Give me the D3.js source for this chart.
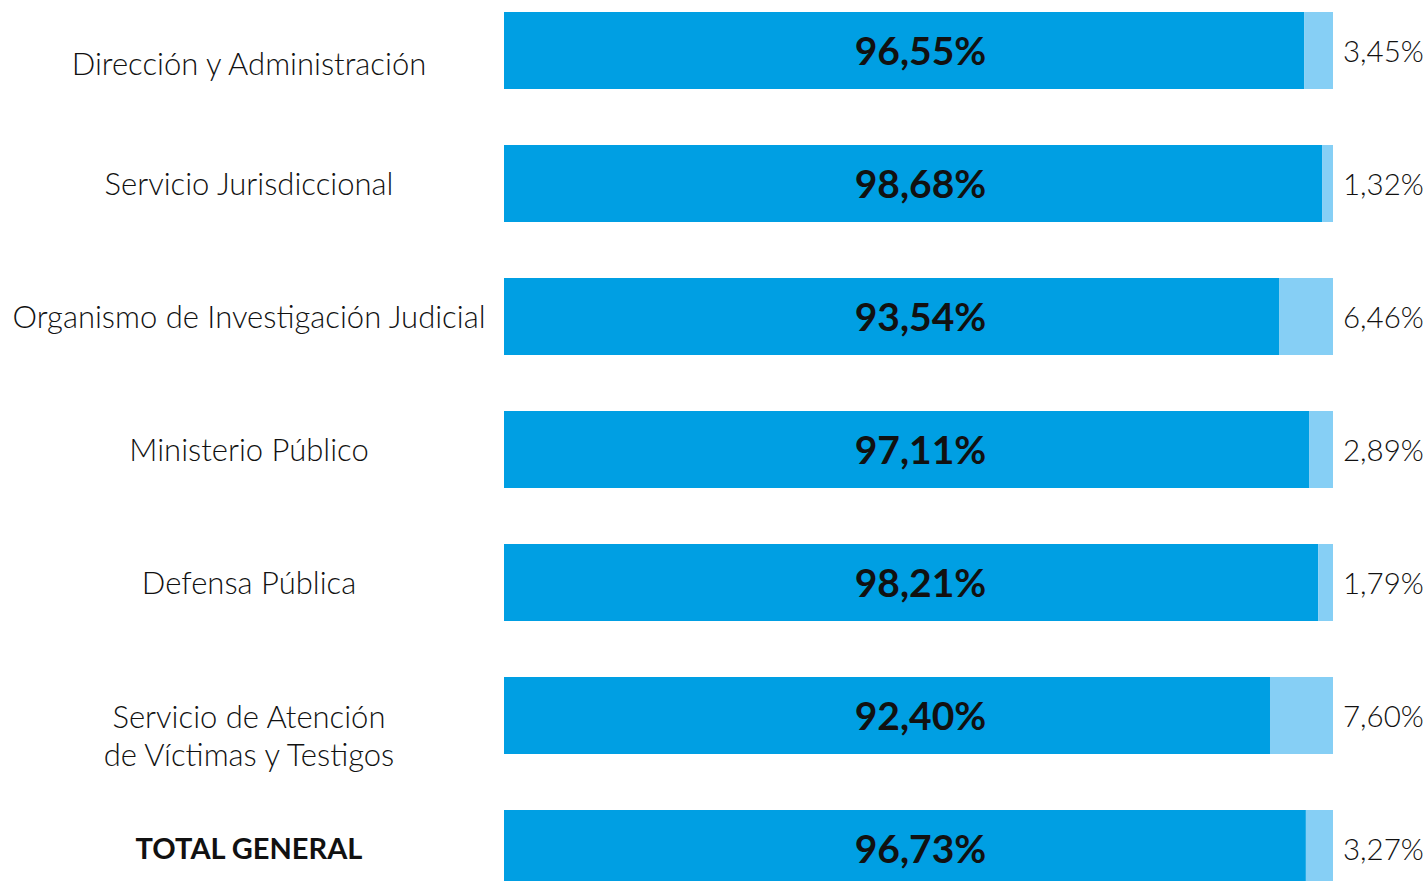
<!DOCTYPE html>
<html><head><meta charset="utf-8">
<script src="https://cdn.jsdelivr.net/npm/d3@7"></script>
<style>
html,body{margin:0;padding:0;background:#fff;overflow:hidden;}
svg text{font-family:Lato,"Noto Sans",sans-serif;}
</style></head><body>
<svg id="c" width="1428" height="881"></svg>
<script>
const categories = [
  ["Dirección y Administración"],
  ["Servicio Jurisdiccional"],
  ["Organismo de Investigación Judicial"],
  ["Ministerio Público"],
  ["Defensa Pública"],
  ["Servicio de Atención", "de Víctimas y Testigos"],
  ["TOTAL GENERAL"]
];
const mainValues = [96.55, 98.68, 93.54, 97.11, 98.21, 92.40, 96.73];
const restValues = [3.45, 1.32, 6.46, 2.89, 1.79, 7.60, 3.27];

const svg = d3.select("#c");
const fmt = v => v.toFixed(2).replace(".", ",") + "%";

const x = d3.scaleLinear().domain([0, 100]).range([504, 1333]);
const y = d3.scaleBand().domain(d3.range(categories.length))
  .range([-16, 915]).paddingInner(56 / 133).paddingOuter(28 / 133);

const g = svg.selectAll("g.row").data(categories).join("g").attr("class", "row");

g.append("rect")
  .attr("x", x(0)).attr("y", (d, i) => y(i))
  .attr("width", (d, i) => x(mainValues[i]) - x(0))
  .attr("height", y.bandwidth())
  .attr("fill", "#009fe3");
g.append("rect")
  .attr("x", (d, i) => x(mainValues[i])).attr("y", (d, i) => y(i))
  .attr("width", (d, i) => x(mainValues[i] + restValues[i]) - x(mainValues[i]))
  .attr("height", y.bandwidth())
  .attr("fill", "#86cff5");

g.append("text")
  .attr("x", (x(0) + x(100)) / 2 + 2)
  .attr("y", (d, i) => y(i) + y.bandwidth() / 2)
  .attr("dy", "0.36em")
  .attr("text-anchor", "middle")
  .attr("font-size", 39).attr("font-weight", 700).attr("fill", "#111")
  .text((d, i) => fmt(mainValues[i]));

g.append("text")
  .attr("x", 1343)
  .attr("y", (d, i) => y(i) + y.bandwidth() / 2 + 1)
  .attr("dy", "0.36em")
  .attr("font-size", 29.5).attr("font-weight", 300).attr("fill", "#111")
  .text((d, i) => fmt(restValues[i]));

g.each(function(d, i) {
  const t = d3.select(this).append("text")
    .attr("text-anchor", "middle")
    .attr("font-size", i === categories.length - 1 ? 29 : 31)
    .attr("font-weight", i === categories.length - 1 ? 700 : 300)
    .attr("fill", "#111");
  const shift = i === 0 ? 13 : (d.length > 1 ? 20 : 0);
  const cy = y(i) + y.bandwidth() / 2 + shift;
  const lh = 38;
  d.forEach((line, k) => {
    t.append("tspan").attr("x", 249)
      .attr("y", cy + (k - (d.length - 1) / 2) * lh)
      .attr("dy", "0.36em")
      .text(line);
  });
});
</script></body></html>
